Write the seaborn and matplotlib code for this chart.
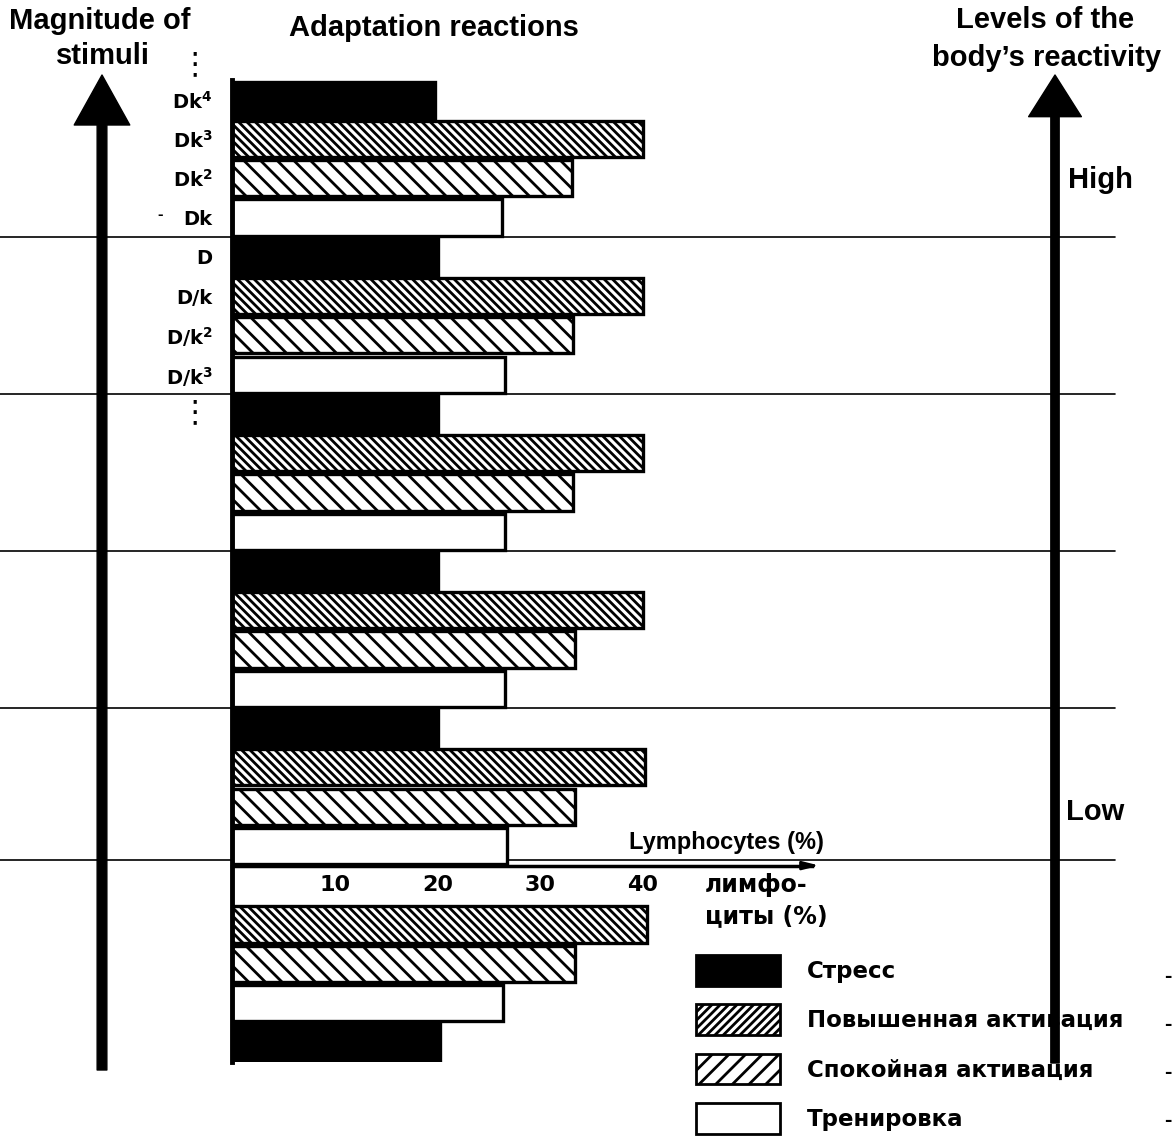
import pandas as pd
import seaborn as sns
import matplotlib.pyplot as plt
from matplotlib.patches import Patch

# reaction types, top to bottom inside each group
reactions = ['Стресс', 'Повышенная активация', 'Спокойная активация', 'Тренировка']

# lymphocyte percentages (5 full groups + bottom group)
stress = [19.8, 20.1, 20.1, 20.1, 20.1, 20.3]
elevated = [40.0, 40.0, 40.0, 40.0, 40.2, 40.4]
calm = [33.1, 33.2, 33.2, 33.4, 33.4, 33.4]
training = [26.3, 26.6, 26.6, 26.6, 26.8, 26.4]

stimulus_labels = ['Dk$^4$', 'Dk$^3$', 'Dk$^2$', 'Dk', 'D', 'D/k', 'D/k$^2$', 'D/k$^3$']
x_ticks = [10, 20, 30, 40, 50]
x_ticklabels = ['10', '20', '30', '40', '']

# build rows: slot index = vertical position (0 at top); slot 20 is taken by the x axis
rows = []
for g in range(5):
    vals = [stress[g], elevated[g], calm[g], training[g]]
    for k in range(4):
        rows.append({'slot': 4 * g + k, 'reaction': reactions[k], 'value': vals[k]})
rows.append({'slot': 21, 'reaction': reactions[1], 'value': elevated[5]})
rows.append({'slot': 22, 'reaction': reactions[2], 'value': calm[5]})
rows.append({'slot': 23, 'reaction': reactions[3], 'value': training[5]})
rows.append({'slot': 24, 'reaction': reactions[0], 'value': stress[5]})
df = pd.DataFrame(rows)
n_slots = 25

sns.set_theme(style='white')
plt.rcParams['font.family'] = ['Liberation Sans', 'DejaVu Sans']
plt.rcParams['mathtext.default'] = 'bf'
plt.rcParams['hatch.linewidth'] = 2.0
plt.rcParams['text.color'] = 'black'
plt.rcParams['xtick.color'] = 'black'
plt.rcParams['ytick.color'] = 'black'

W, H = 1174, 1139
fig = plt.figure(figsize=(W / 100, H / 100), dpi=100)
ax = fig.add_axes([232 / W, (H - 1062) / H, 883 / W, 982 / H])

palette = {'Стресс': 'black', 'Повышенная активация': 'white',
           'Спокойная активация': 'white', 'Тренировка': 'white'}
sns.barplot(data=df, x='value', y='slot', hue='reaction', order=list(range(n_slots)),
            hue_order=reactions, palette=palette, orient='h', dodge=False, width=0.92,
            edgecolor='black', linewidth=2.4, errorbar=None, legend=False, ax=ax)

hatches = [None, '\\\\\\\\', '\\\\', None]
for cont, h in zip(ax.containers, hatches):
    for bar in cont:
        bar.set_hatch(h)

ax.set_ylim(n_slots - 0.5, -0.5)
ax.set_xlim(0, 86.0)
ax.set_xlabel('')
ax.set_ylabel('')

# spines
for s in ['top', 'right']:
    ax.spines[s].set_visible(False)
ax.spines['left'].set_linewidth(3.5)
ax.spines['left'].set_color('black')
axis_y = 19.5
ax.spines['bottom'].set_position(('data', axis_y))
ax.spines['bottom'].set_bounds(0, 56.5)
ax.spines['bottom'].set_linewidth(2.5)
ax.spines['bottom'].set_color('black')
ax.annotate('', xy=(57.5, axis_y), xytext=(55.5, axis_y),
            arrowprops=dict(arrowstyle='-|>,head_length=0.8,head_width=0.2', color='black', lw=2))

ax.set_xticks(x_ticks)
ax.set_xticklabels(x_ticklabels, fontfamily='DejaVu Sans', fontweight='bold', fontsize=16)
ax.tick_params(axis='x', direction='in', length=6, width=2.5, color='black', pad=7)
ax.set_yticks(range(len(stimulus_labels)))
ax.set_yticklabels(stimulus_labels, fontfamily='DejaVu Sans', fontweight='bold', fontsize=14)
ax.tick_params(axis='y', length=0, pad=14)

# group separators
for yb in [3.5, 7.5, 11.5, 15.5, 19.35]:
    ax.axhline(yb, xmin=-232 / 883, xmax=1, color='black', lw=1.2, clip_on=False, zorder=0)

# big arrows
ax.annotate('', xy=(102, H - 75), xytext=(102, H - 1070), xycoords='figure pixels',
            textcoords='figure pixels',
            arrowprops=dict(width=7, headwidth=40, headlength=36, shrink=0, color='black'))
ax.annotate('', xy=(1055, H - 75), xytext=(1055, H - 1063), xycoords='figure pixels',
            textcoords='figure pixels', zorder=10,
            arrowprops=dict(width=6, headwidth=38, headlength=30, shrink=0, color='black'))


def ftext(x, y, s, **kw):
    fig.text(x / W, 1 - y / H, s, **kw)


title_kw = dict(fontsize=21, fontweight='bold', ha='center', va='center')
ftext(100, 21, 'Magnitude of', **title_kw)
ftext(103, 56, 'stimuli', **title_kw)
ftext(434, 28, 'Adaptation reactions', **title_kw)
ftext(1045, 20, 'Levels of the', **title_kw)
ftext(1047, 58, 'body’s reactivity', **title_kw)
ftext(1100, 180, 'High', **title_kw)
ftext(1095, 812, 'Low', **title_kw)
ftext(726, 843, 'Lymphocytes (%)', fontsize=17, fontweight='bold', ha='center', va='center')
ftext(705, 885, 'лимфо-', fontsize=17, fontweight='bold', ha='left', va='center',
      fontfamily='DejaVu Sans')
ftext(705, 916, 'циты (%)', fontsize=17, fontweight='bold', ha='left', va='center',
      fontfamily='DejaVu Sans')

# vertical ellipses and stray dashes from the scan
ftext(195, 65, '⋮', fontsize=22, fontfamily='DejaVu Sans', ha='center', va='center')
ftext(195, 413, '⋮', fontsize=22, fontfamily='DejaVu Sans', ha='center', va='center')
ftext(160, 215, '-', fontsize=12, fontweight='bold', ha='center', va='center')
for yy in [976, 1024, 1072, 1120]:
    ftext(1168, yy, '-', fontsize=16, fontweight='bold', ha='center', va='center')

# legend
handles = [Patch(facecolor='black', edgecolor='black', lw=2),
           Patch(facecolor='white', edgecolor='black', hatch='////', lw=2),
           Patch(facecolor='white', edgecolor='black', hatch='//', lw=2),
           Patch(facecolor='white', edgecolor='black', lw=2)]
ax.legend(handles, reactions, loc='upper left', bbox_to_anchor=(696 / W, 1 - 955 / H),
          bbox_transform=fig.transFigure, frameon=False, handlelength=3.65, handleheight=1.7,
          labelspacing=0.8, handletextpad=1.2, borderpad=0, borderaxespad=0,
          prop=dict(family='DejaVu Sans', weight='bold', size=16.5))

plt.savefig('out.png', dpi=100)
